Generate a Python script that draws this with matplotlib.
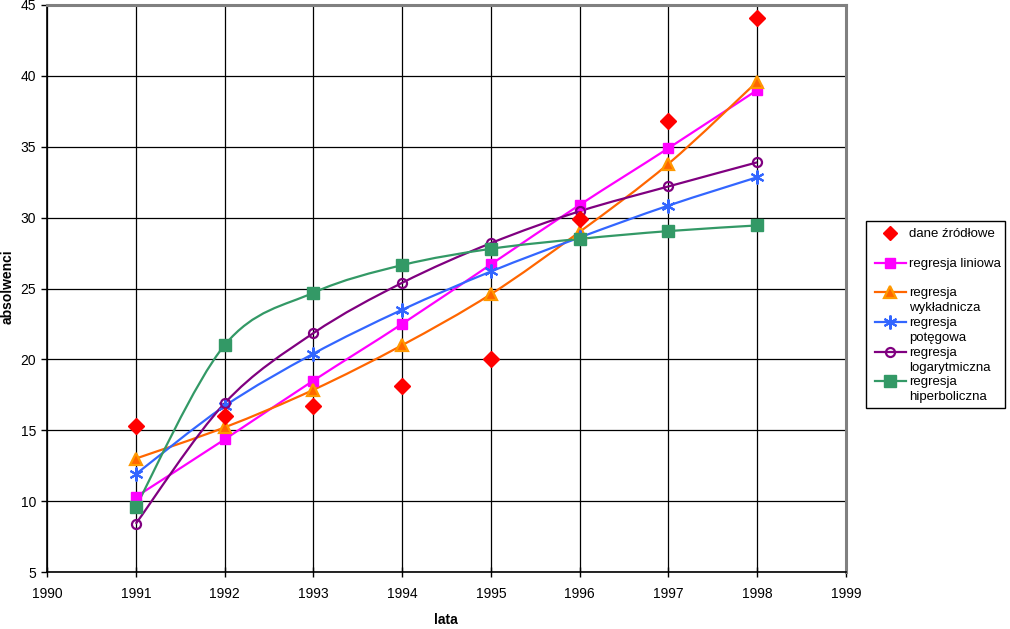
import matplotlib
matplotlib.use("Agg")
import matplotlib.pyplot as plt
import numpy as np
from matplotlib.path import Path
from matplotlib.patches import PathPatch, Rectangle
from matplotlib.lines import Line2D

plt.rcParams['font.family'] = ['Liberation Sans', 'DejaVu Sans']

years = [1991, 1992, 1993, 1994, 1995, 1996, 1997, 1998]
dane = [15.3, 16.0, 16.7, 18.1, 20.0, 29.9, 36.8, 44.1]
liniowa = [10.3, 14.35, 18.5, 22.5, 26.7, 30.9, 34.9, 39.0]
wykladnicza = [13.0, 15.2, 17.85, 21.0, 24.6, 29.0, 33.8, 39.6]
potegowa = [11.9, 16.7, 20.4, 23.5, 26.2, 28.6, 30.85, 32.85]
logarytmiczna = [8.4, 16.9, 21.85, 25.4, 28.2, 30.45, 32.2, 33.9]
hiperboliczna = [9.6, 21.0, 24.7, 26.65, 27.8, 28.5, 29.05, 29.45]

labels = ["dane źródłowe", "regresja liniowa", "regresja\nwykładnicza",
          "regresja\npotęgowa", "regresja\nlogarytmiczna", "regresja\nhiperboliczna"]

x_ticks = list(range(1990, 2000))
y_ticks = list(range(5, 50, 5))

W, H = 1010, 629
fig = plt.figure(figsize=(W / 100, H / 100), dpi=100)
ax = fig.add_axes([47 / W, 1 - 572 / H, (846 - 47) / W, (572 - 5) / H])
ax.set_xlim(1990, 1999)
ax.set_ylim(5, 45)
ax.set_xticks(x_ticks)
ax.set_yticks(y_ticks)
ax.grid(True, color='black', linewidth=0.9)
ax.set_axisbelow(True)
for s in ['top', 'right']:
    ax.spines[s].set_color('#808080')
    ax.spines[s].set_linewidth(2.2)
for s in ['left', 'bottom']:
    ax.spines[s].set_color('black')
    ax.spines[s].set_linewidth(1.2)
ax.tick_params(direction='out', length=4, width=1, labelsize=10)
ax.tick_params(axis='x', direction='inout', length=7, pad=7)
ax.tick_params(axis='y', pad=4)
ax.set_xlabel("lata", fontsize=10, fontweight='bold')
ax.set_ylabel("absolwenci", fontsize=10, fontweight='bold')
ax.xaxis.set_label_coords((446 - 47) / 799, -(620 - 572) / 567, transform=ax.transAxes)
ax.yaxis.set_label_coords(-(47 - 8) / 799, (572 - 287) / 567, transform=ax.transAxes)
ax.xaxis.label.set_va('center')
ax.yaxis.label.set_va('center')


def smooth_path(xs, ys):
    P = np.column_stack([xs, ys]).astype(float)
    n = len(P)
    verts = [P[0]]
    codes = [Path.MOVETO]
    for i in range(n - 1):
        p_prev = P[i - 1] if i > 0 else P[i]
        p_next2 = P[i + 2] if i + 2 < n else P[i + 1]
        c1 = P[i] + (P[i + 1] - p_prev) / 6.0
        c2 = P[i + 1] - (p_next2 - P[i]) / 6.0
        verts += [c1, c2, P[i + 1]]
        codes += [Path.CURVE4] * 3
    return Path(verts, codes)


series = [
    (liniowa, '#FF00FF', dict(marker='s', ms=6.5, mfc='#FF00FF', mec='#FF00FF')),
    (wykladnicza, '#FF6600', dict(marker='^', ms=8, mfc='#FF6600', mec='#FF9900', mew=1.6)),
    (potegowa, '#3366FF', dict(marker=(6, 2, 0), ms=10, mfc='#3366FF', mec='#3366FF', mew=1.5)),
    (logarytmiczna, '#800080', dict(marker='o', ms=6.5, mfc='none', mec='#800080', mew=1.6)),
    (hiperboliczna, '#339966', dict(marker='s', ms=8, mfc='#339966', mec='#339966')),
]

for vals, col, mk in series:
    ax.add_patch(PathPatch(smooth_path(years, vals), facecolor='none', edgecolor=col,
                           linewidth=1.6, zorder=3))
for vals, col, mk in series:
    ax.plot(years, vals, linestyle='none', zorder=4, clip_on=False, **mk)
ax.plot(years, dane, linestyle='none', marker='D', ms=8, color='#FF0000', zorder=5)

# manual legend
def fx(px):
    return px / W

def fy(py):
    return 1 - py / H

fig.patches.append(Rectangle((fx(866), fy(408)), fx(1005) - fx(866), fy(221) - fy(408),
                             transform=fig.transFigure, facecolor='white',
                             edgecolor='black', linewidth=1.0))
rows = [233, 263, 292, 322, 352, 381]
handles = [(None, '#FF0000', dict(marker='D', ms=7.5, mfc='#FF0000', mec='#FF0000'))] + series
for (vals, col, mk), lab, ry in zip(handles, labels, rows):
    if vals is not None:
        fig.add_artist(Line2D([fx(875), fx(906)], [fy(ry), fy(ry)], color=col, linewidth=1.6,
                              transform=fig.transFigure))
    fig.add_artist(Line2D([fx(890)], [fy(ry)], linestyle='none', transform=fig.transFigure, **mk))
    fig.text(fx(909), fy(ry) + 5 / H, lab, fontsize=9.5, va='top', ha='left',
             linespacing=1.35)

fig.savefig("out.png", dpi=100)
